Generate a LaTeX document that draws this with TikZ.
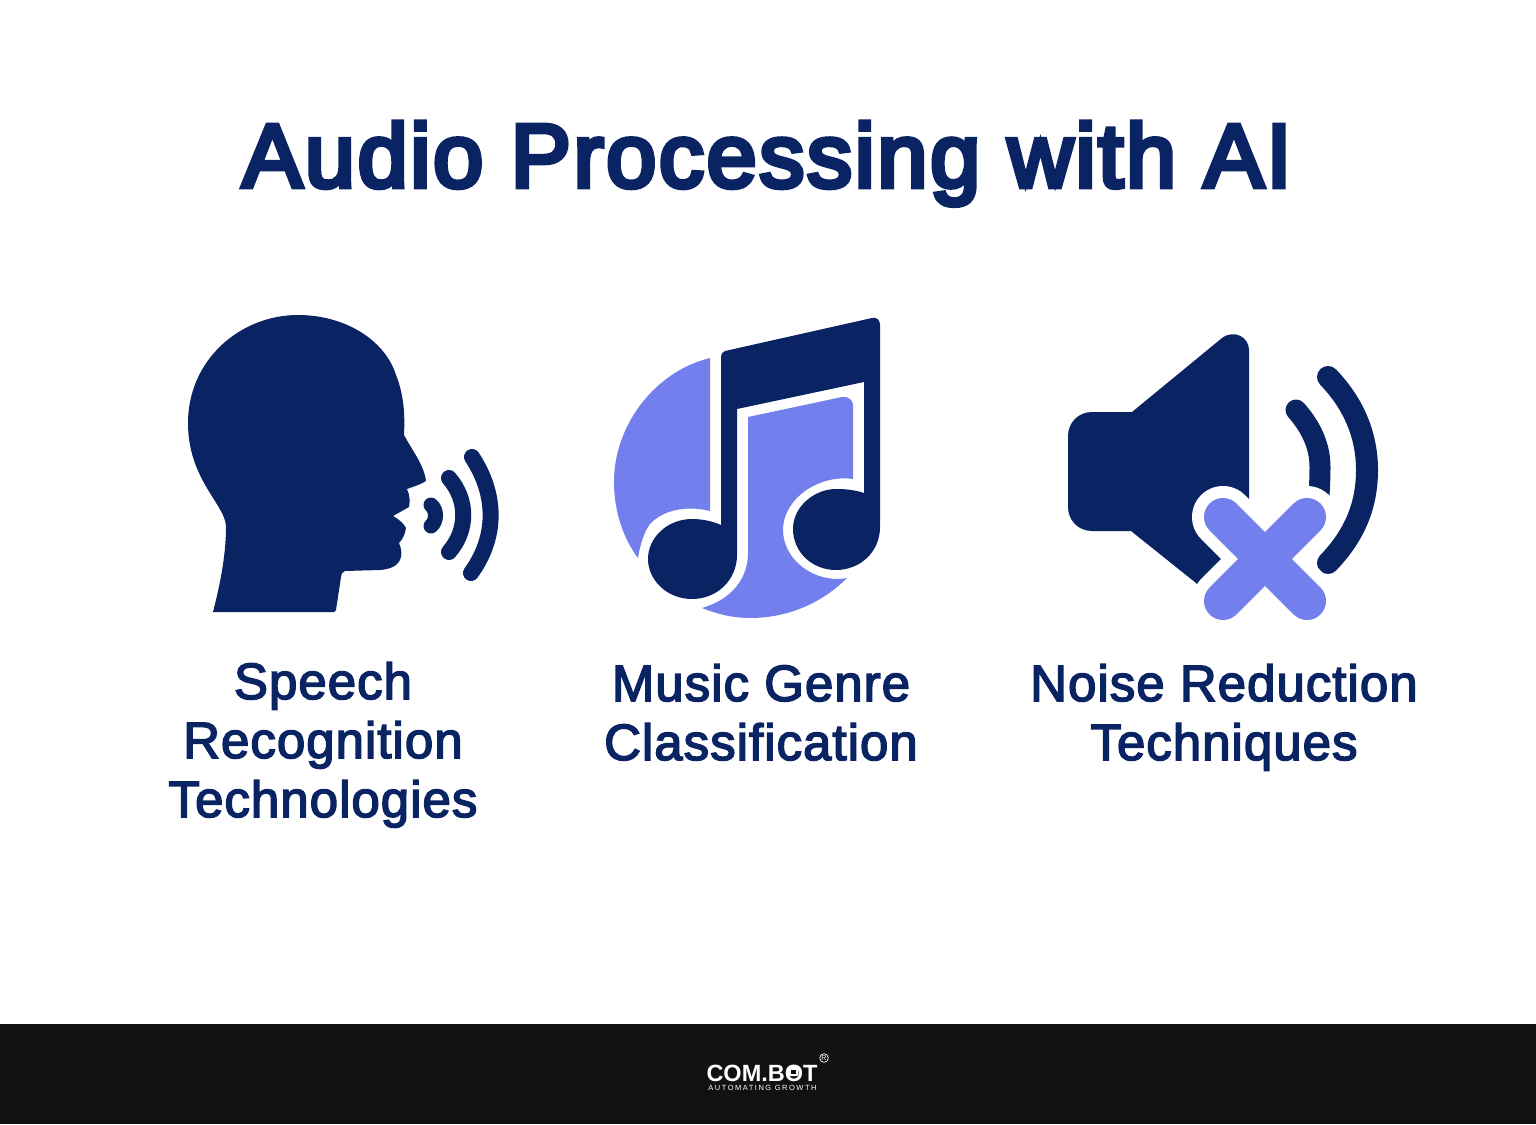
\documentclass[tikz,border=0pt]{standalone}
\usepackage{fontspec}
\setmainfont{Liberation Sans}
\newfontfamily\labelfont[FakeBold=3,LetterSpace=2]{Liberation Sans}
\newfontfamily\titlefont[FakeBold=5.5,LetterSpace=3]{Liberation Sans}
\definecolor{navy}{HTML}{0A2463}
\definecolor{lilac}{HTML}{727FEC}
\definecolor{barblack}{HTML}{111111}
\begin{document}
\begin{tikzpicture}[
x=1pt,y=-1pt,
heading/.style={
  text=navy,
  anchor=base,
  inner sep=0pt,
  font=\fontsize{90}{100}\selectfont\titlefont
  },
caption/.style={
  text=navy,
  anchor=base,
  align=center,
  inner sep=0pt,
  font=\fontsize{51}{59}\selectfont\labelfont
  },
wave/.style={
  draw=navy,
  line cap=round,
  line width=#1
  },
cross/.style={
  line cap=round,
  line width=#1
  }
]
\useasboundingbox (0,0) rectangle (1536,1124);
\fill[barblack] (0,1024) rectangle (1536,1124);

\node[heading] (title) at (767,187) {Audio Processing with AI};

% head
\fill[navy] (213,612) .. controls (220,585) and (226,555) .. (226,527)
  .. controls (226,505) and (188,480) .. (188,423)
  .. controls (188,360) and (240,315) .. (298,315)
  .. controls (345,315) and (385,340) .. (396,375)
  .. controls (404,395) and (405,415) .. (404,435)
  .. controls (412,450) and (424,465) .. (426,481)
  .. controls (420,485) and (412,487) .. (407,489)
  .. controls (410,495) and (410,502) .. (409,507)
  -- (393,516)
  .. controls (400,520) and (404,524) .. (406,528)
  .. controls (405,535) and (402,540) .. (399,543)
  .. controls (401,548) and (402,552) .. (401,557)
  .. controls (399,565) and (392,569) .. (380,570)
  -- (345,571) .. controls (342,572) and (341,574) .. (341,577)
  -- (336,610) -- (334,612) -- cycle;
\draw[wave=15pt] (431,505) .. controls (437,510) and (437,521) .. (431,526);
\draw[wave=16pt] (449,478) .. controls (468,500) and (468,530) .. (449,552);
\draw[wave=16pt] (472,457) .. controls (497,495) and (497,537) .. (471,573);

\node[caption] (speech) at (323,817) {Speech\\Recognition\\Technologies};

% music note
\fill[lilac] (710,358) .. controls (656,371) and (614,424) .. (614,482)
  .. controls (614,511) and (623,538) .. (638,558)
  .. controls (640,545) and (644,532) .. (650,524)
  .. controls (665,508) and (690,506) .. (710,511) -- cycle;
\fill[lilac] (748,417) -- (842,397) .. controls (848,396) and (853,400) .. (853,405)
  -- (853,479) .. controls (820,474) and (783,498) .. (783,530)
  .. controls (783,560) and (815,584) .. (847,578)
  .. controls (820,605) and (785,618) .. (750,618)
  .. controls (733,618) and (717,614) .. (702,608)
  .. controls (730,600) and (748,580) .. (748,553) -- cycle;
\fill[navy] (721,357) .. controls (721,354) and (722,352) .. (725,351)
  -- (872,318) .. controls (877,317) and (880,320) .. (880,325)
  -- (880,527) .. controls (880,552) and (860,570) .. (836,570)
  .. controls (812,570) and (793,552) .. (793,529)
  .. controls (793,506) and (815,489) .. (836,489)
  .. controls (846,489) and (855,490) .. (864,493)
  -- (864,382) -- (737,409) -- (737,555)
  .. controls (737,580) and (717,599) .. (692,599)
  .. controls (667,599) and (648,580) .. (648,559)
  .. controls (648,537) and (668,519) .. (692,519)
  .. controls (702,519) and (712,521) .. (721,525) -- cycle;

\node[caption] (music) at (761,760) {Music Genre\\Classification};

% speaker
\fill[navy] (1092,412) -- (1132,412) -- (1222,338)
  .. controls (1234,329) and (1249,337) .. (1249,350)
  -- (1249,520) -- (1210,600) -- (1196,583) -- (1131,531) -- (1092,531)
  .. controls (1078,531) and (1068,520) .. (1068,507)
  -- (1068,436) .. controls (1068,423) and (1078,412) .. (1092,412) -- cycle;
\draw[wave=21pt] (1296,410) .. controls (1312,428) and (1320,447) .. (1320,467)
  .. controls (1320,482) and (1319,497) .. (1318,510);
\draw[wave=22pt] (1328,377) .. controls (1355,405) and (1367,437) .. (1367,470)
  .. controls (1367,505) and (1355,535) .. (1328,563);
\foreach \sx/\ex in {1223/1307,1307/1223}
  \draw[cross=62pt,white] (\sx,517) -- (\ex,601);
\foreach \sx/\ex in {1223/1307,1307/1223}
  \draw[cross=38pt,lilac] (\sx,517) -- (\ex,601);

\node[caption] (noise) at (1224,760) {Noise Reduction\\Techniques};

% logo
\node[text=white,anchor=base,inner sep=0pt,font=\fontsize{23.5}{25}\selectfont\bfseries]
  (brand) at (762,1081) {COM.BOT};
\fill[white,rounded corners=1pt] (789,1067) rectangle (798,1076);
\fill[barblack] (791,1070) rectangle (796,1074);
\node[text=white,anchor=base,inner sep=0pt,font=\fontsize{7.5}{8}\selectfont]
  (tagline) at (762.5,1090) {\addfontfeature{LetterSpace=20}AUTOMATING GROWTH};
\node[draw=white,circle,text=white,inner sep=0.6pt,line width=0.7pt,font=\fontsize{7}{7}\selectfont]
  (regmark) at (824,1058) {R};
\end{tikzpicture}
\end{document}
